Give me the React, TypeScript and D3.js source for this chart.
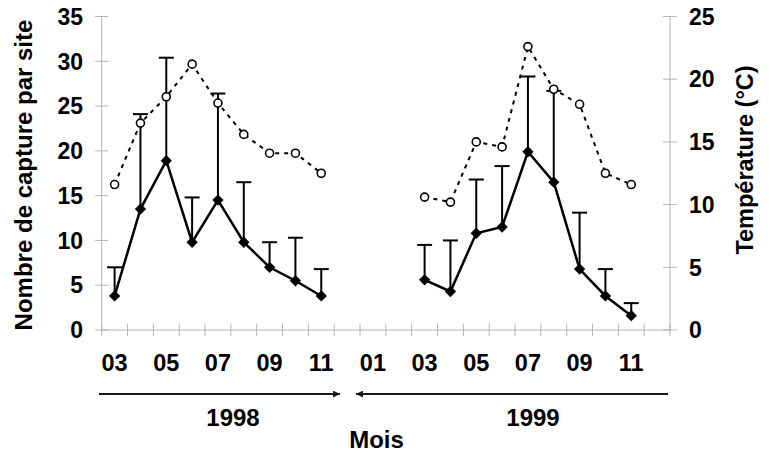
import React from "react";
import * as d3 from "d3";

const months = ["03","04","05","06","07","08","09","10","11","12","01","02","03","04","05","06","07","08","09","10","11","12"];
const yearLabels = ["1998", "1999"];

const idx1998 = [0, 1, 2, 3, 4, 5, 6, 7, 8];
const capture1998 = [3.8, 13.5, 18.9, 9.8, 14.5, 9.8, 7.0, 5.5, 3.8];
const err1998 = [7.0, 24.1, 30.4, 14.8, 26.4, 16.5, 9.8, 10.3, 6.8];
const temp1998 = [11.6, 16.5, 18.6, 21.2, 18.1, 15.6, 14.1, 14.1, 12.5];

const idx1999 = [12, 13, 14, 15, 16, 17, 18, 19, 20];
const capture1999 = [5.6, 4.3, 10.8, 11.5, 19.9, 16.5, 6.8, 3.8, 1.6];
const err1999 = [9.5, 10.0, 16.8, 18.3, 28.3, 26.7, 13.1, 6.8, 3.0];
const temp1999 = [10.6, 10.2, 15.0, 14.6, 22.6, 19.2, 18.0, 12.5, 11.6];

const leftTicks = [0, 5, 10, 15, 20, 25, 30, 35];
const rightTicks = [0, 5, 10, 15, 20, 25];

const W = 769, H = 453;
const X0 = 101.7, X1 = 670, Y0 = 330, Y1 = 16.5;
const FONT = "'Liberation Sans', Arial, sans-serif";
const AXIS = "#b4b4b4";

export default function App() {
  const x = d3.scaleBand<number>().domain(d3.range(months.length)).range([X0, X1]).padding(0);
  const cx = (i: number) => (x(i) as number) + x.bandwidth() / 2;
  const yL = d3.scaleLinear().domain([0, 35]).range([Y0, Y1]);
  const yR = d3.scaleLinear().domain([0, 25]).range([Y0, Y1]);

  const series = [
    { idx: idx1998, cap: capture1998, err: err1998, temp: temp1998 },
    { idx: idx1999, cap: capture1999, err: err1999, temp: temp1999 },
  ];

  const capLine = d3.line<[number, number]>().x((d) => cx(d[0])).y((d) => yL(d[1]));
  const tempLine = d3.line<[number, number]>().x((d) => cx(d[0])).y((d) => yR(d[1]));
  const diamond = d3.symbol().type(d3.symbolSquare).size(64)();

  const bounds = d3.range(months.length + 1).map((i) => X0 + i * x.bandwidth());

  return (
    <svg width={W} height={H} style={{ position: "absolute", left: 0, top: 0, background: "#fff" }} fontFamily={FONT} fontWeight="bold">
      <rect width={W} height={H} fill="#fff" />
      <line x1={X0} x2={X0} y1={Y1} y2={Y0} stroke={AXIS} strokeWidth={1} />
      <line x1={X1} x2={X1} y1={Y1} y2={Y0} stroke={AXIS} strokeWidth={1} />
      <line x1={X0} x2={X1} y1={Y0} y2={Y0} stroke={AXIS} strokeWidth={1} />
      {bounds.map((bx, i) => (
        <line key={"xt" + i} x1={bx} x2={bx} y1={Y0 - 6.5} y2={Y0 + 6} stroke={AXIS} strokeWidth={1} />
      ))}
      {leftTicks.map((t) => (
        <g key={"lt" + t}>
          <line x1={X0 - 6.5} x2={X0 + 6.5} y1={yL(t)} y2={yL(t)} stroke={AXIS} strokeWidth={1} />
          <text x={83} y={yL(t)} dy="0.36em" textAnchor="end" fontSize={23} fill="#000">{t}</text>
        </g>
      ))}
      {rightTicks.map((t) => (
        <g key={"rt" + t}>
          <line x1={X1 - 7} x2={X1 + 7} y1={yR(t)} y2={yR(t)} stroke={AXIS} strokeWidth={1} />
          <text x={689} y={yR(t)} dy="0.36em" textAnchor="start" fontSize={23} fill="#000">{t}</text>
        </g>
      ))}
      {months.map((m, i) =>
        i % 2 === 0 ? (
          <text key={"xl" + i} x={cx(i)} y={370.5} textAnchor="middle" fontSize={23.5} fill="#000">{m}</text>
        ) : null
      )}
      <text transform={`translate(32,175) rotate(-90)`} textAnchor="middle" fontSize={24} fill="#000">Nombre de capture par site</text>
      <text transform={`translate(753,160) rotate(-90)`} textAnchor="middle" fontSize={23.5} fill="#000">Température (°C)</text>

      <defs>
        <marker id="ah" viewBox="0 0 10 10" refX="10" refY="5" markerWidth="8" markerHeight="7" markerUnits="userSpaceOnUse" orient="auto">
          <path d="M0,0 L10,5 L0,10 z" fill="#1a1a1a" />
        </marker>
      </defs>
      <line x1={99} x2={340} y1={394} y2={394} stroke="#1a1a1a" strokeWidth={2} markerEnd="url(#ah)" />
      <line x1={668} x2={356} y1={394} y2={394} stroke="#1a1a1a" strokeWidth={2} markerEnd="url(#ah)" />
      <text x={233} y={426} textAnchor="middle" fontSize={24} fill="#000">{yearLabels[0]}</text>
      <text x={533} y={426} textAnchor="middle" fontSize={24} fill="#000">{yearLabels[1]}</text>
      <text x={376.5} y={448} textAnchor="middle" fontSize={24} fill="#000">Mois</text>

      {series.map((s, k) => {
        const capPts = s.idx.map((i, j) => [i, s.cap[j]] as [number, number]);
        const tempPts = s.idx.map((i, j) => [i, s.temp[j]] as [number, number]);
        return (
          <g key={"s" + k}>
            <path d={tempLine(tempPts) as string} fill="none" stroke="#000" strokeWidth={2} strokeDasharray="4 5" />
            {s.idx.map((i, j) => (
              <g key={"e" + j}>
                <line x1={cx(i)} x2={cx(i)} y1={yL(s.cap[j])} y2={yL(s.err[j])} stroke="#000" strokeWidth={2} />
                <line x1={cx(i) - 7.5} x2={cx(i) + 7.5} y1={yL(s.err[j])} y2={yL(s.err[j])} stroke="#000" strokeWidth={2} />
              </g>
            ))}
            <path d={capLine(capPts) as string} fill="none" stroke="#000" strokeWidth={2.5} />
            {capPts.map((p, j) => (
              <path key={"d" + j} d={diamond as string} transform={`translate(${cx(p[0])},${yL(p[1])}) rotate(45)`} fill="#000" />
            ))}
            {tempPts.map((p, j) => (
              <circle key={"c" + j} cx={cx(p[0])} cy={yR(p[1])} r={4} fill="#fff" stroke="#000" strokeWidth={1.6} />
            ))}
          </g>
        );
      })}
    </svg>
  );
}
